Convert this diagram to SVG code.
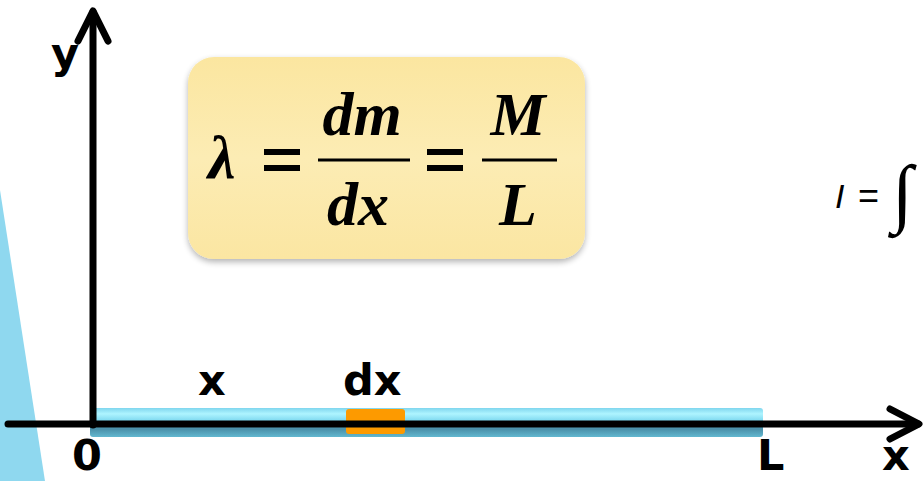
<svg xmlns="http://www.w3.org/2000/svg" width="923" height="481" viewBox="0 0 923 481">
<defs>
<linearGradient id="barG" x1="0" y1="0" x2="0" y2="1">
<stop offset="0" stop-color="#7fd6ee"/>
<stop offset="0.2" stop-color="#aef4ff"/>
<stop offset="0.5" stop-color="#72d2ec"/>
<stop offset="0.72" stop-color="#4a8fa8"/>
<stop offset="1" stop-color="#62b8d0"/>
</linearGradient>
<linearGradient id="boxG" x1="0" y1="0" x2="0" y2="1">
<stop offset="0" stop-color="#fbe6a0"/>
<stop offset="0.5" stop-color="#fcecb4"/>
<stop offset="1" stop-color="#fbe6a2"/>
</linearGradient>
<filter id="sh" x="-10%" y="-10%" width="120%" height="125%">
<feGaussianBlur in="SourceAlpha" stdDeviation="3"/>
<feOffset dx="0" dy="3" result="b"/>
<feComponentTransfer><feFuncA type="linear" slope="0.3"/></feComponentTransfer>
<feMerge><feMergeNode/><feMergeNode in="SourceGraphic"/></feMerge>
</filter>
</defs>
<style>
.ax{stroke:#000;stroke-width:7;stroke-linecap:round;stroke-linejoin:round;fill:none}
.lbl{font-family:"DejaVu Sans",Verdana,sans-serif;font-weight:bold;font-size:43px;fill:#000}
.math{font-family:"Liberation Serif","Times New Roman",serif;font-weight:bold;font-style:italic;font-size:62px;fill:#000}
.eq{stroke:#000;stroke-width:6}
.frac{stroke:#000;stroke-width:3}
.sans{font-family:"Liberation Sans",Arial,sans-serif;fill:#000}
</style>
<polygon id="wedge" points="0,190 45,481 0,481" fill="#8fd8ef"/>
<g id="formula-box" filter="url(#sh)">
<rect x="188" y="57" width="397" height="202" rx="26" fill="url(#boxG)"/>
</g>
<g id="formula">
<text class="math" x="208" y="178" font-size="68">λ</text>
<line class="eq" x1="264" y1="152" x2="300" y2="152"/>
<line class="eq" x1="264" y1="168" x2="300" y2="168"/>
<text class="math" x="362" y="135" text-anchor="middle">dm</text>
<line class="frac" x1="318" y1="160" x2="410" y2="160"/>
<text class="math" x="358" y="225" text-anchor="middle">dx</text>
<line class="eq" x1="427" y1="152" x2="463" y2="152"/>
<line class="eq" x1="427" y1="168" x2="463" y2="168"/>
<text class="math" x="518" y="135" text-anchor="middle" font-size="64">M</text>
<line class="frac" x1="482" y1="160" x2="557" y2="160"/>
<text class="math" x="518" y="225" text-anchor="middle" font-size="64">L</text>
</g>
<g id="integral">
<text class="sans" x="835" y="208" font-style="italic" font-size="34">I</text>
<text class="sans" x="858" y="208" font-size="36">=</text>
<text x="892" y="218" font-family="Liberation Serif,serif" font-size="76" fill="#000">∫</text>
</g>
<g id="rod">
<rect x="90" y="408" width="673" height="29" rx="3" fill="url(#barG)"/>
<rect x="346" y="409" width="59" height="25" rx="3" fill="#fd9a00"/>
</g>
<g id="connectors">
<line class="ax" x1="93" y1="425" x2="93" y2="12"/>
<polyline class="ax" points="78,41 93,11 108,41"/>
<line class="ax" x1="8" y1="424" x2="918" y2="424"/>
<polyline class="ax" points="890,409 919,424 890,439"/>
</g>
<g id="labels">
<text class="lbl" x="51" y="68">y</text>
<text class="lbl" x="198" y="395">x</text>
<text class="lbl" x="343" y="395">dx</text>
<text class="lbl" x="72" y="470">0</text>
<text class="lbl" x="757" y="470">L</text>
<text class="lbl" x="882" y="470">x</text>
</g>
</svg>
